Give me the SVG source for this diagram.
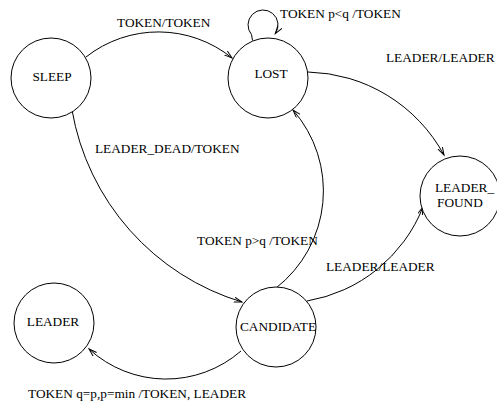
<svg xmlns="http://www.w3.org/2000/svg" width="497" height="407" viewBox="0 0 497 407">
<style>
.st{fill:#fff;stroke:#000;stroke-width:1}
.e{fill:none;stroke:#000;stroke-width:1}
text{font-family:"Liberation Serif","Times New Roman",serif;font-size:13.3px;fill:#000}
.c{text-anchor:middle}
</style>
<defs>
<marker id="ah" markerWidth="10" markerHeight="8" refX="8" refY="3" orient="auto" markerUnits="userSpaceOnUse">
<path d="M0,0.5 L8,3 L0,5.5" fill="none" stroke="#000" stroke-width="1"/>
</marker>
</defs>
<rect width="497" height="407" fill="#fff"/>
<g id="connectors">
<path class="e" marker-end="url(#ah)" d="M86 57 A117 117 0 0 1 232 58"/>
<path class="e" marker-end="url(#ah)" d="M252.5 40.5 L251.5 34.6 A15 15 0 1 1 275.3 33.6"/>
<path class="e" marker-end="url(#ah)" d="M72 110 A244 244 0 0 0 242 302"/>
<path class="e" marker-end="url(#ah)" d="M276 288 A123 123 0 0 0 293 110"/>
<path class="e" marker-end="url(#ah)" d="M308 72 A159 159 0 0 1 444 155"/>
<path class="e" marker-end="url(#ah)" d="M307 301 A152 152 0 0 0 423 207"/>
<path class="e" marker-end="url(#ah)" d="M241 351 A114 114 0 0 1 89 349"/>
<text x="117" y="27">TOKEN/TOKEN</text>
<text x="280" y="18">TOKEN p&lt;q /TOKEN</text>
<text x="386" y="62">LEADER/LEADER</text>
<text x="95" y="153">LEADER_DEAD/TOKEN</text>
<text x="197" y="245">TOKEN p&gt;q /TOKEN</text>
<text x="326" y="271">LEADER/LEADER</text>
<text x="28" y="398">TOKEN q=p,p=min /TOKEN, LEADER</text>
</g>
<g id="sleep"><circle class="st" cx="51" cy="78" r="40"/><text class="c" x="52" y="81">SLEEP</text></g>
<g id="lost"><circle class="st" cx="268" cy="78" r="40"/><text class="c" x="271" y="78">LOST</text></g>
<g id="leader_found"><circle class="st" cx="460" cy="196" r="40"/><text x="435" y="192">LEADER_</text><text x="437" y="207">FOUND</text></g>
<g id="candidate"><circle class="st" cx="276" cy="327" r="40"/><text class="c" x="278" y="331">CANDIDATE</text></g>
<g id="leader"><circle class="st" cx="54" cy="323" r="40"/><text class="c" x="53" y="326">LEADER</text></g>
</svg>
